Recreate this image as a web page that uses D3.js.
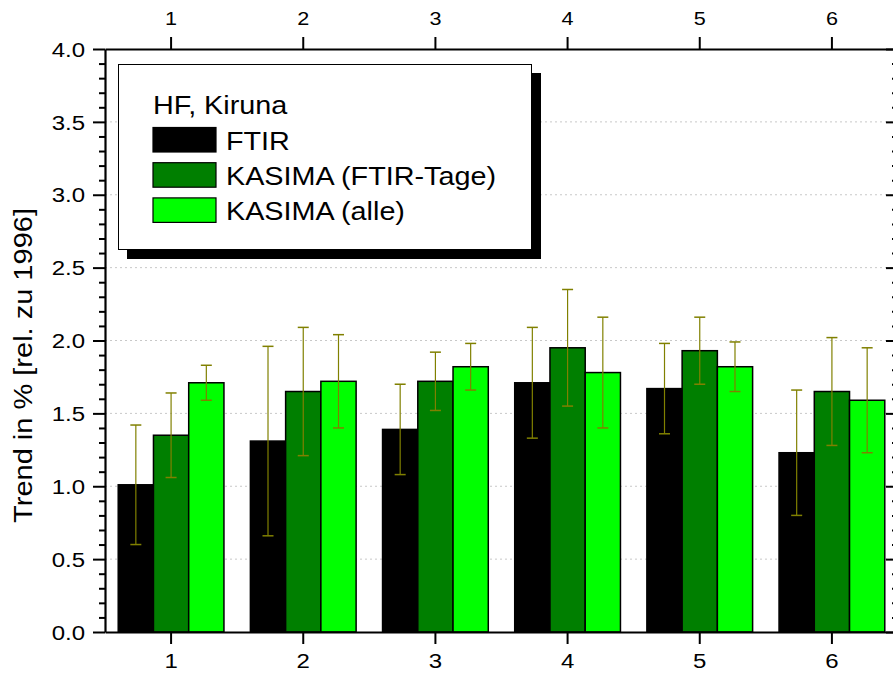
<!DOCTYPE html>
<html>
<head>
<meta charset="utf-8">
<script src="https://cdn.jsdelivr.net/npm/d3@7"></script>
<style>
  html, body { margin: 0; padding: 0; background: #fff; }
  svg { display: block; }
  text { font-family: "Liberation Sans", Arial, sans-serif; fill: #000; }
</style>
</head>
<body>
<svg id="chart" width="893" height="675"></svg>
<script>
// ---------- data ----------
const categories = ["1", "2", "3", "4", "5", "6"];
const seriesNames = ["FTIR", "KASIMA (FTIR-Tage)", "KASIMA (alle)"];
const ftir          = [1.01, 1.31, 1.39, 1.71, 1.67, 1.23];
const ftirErr       = [0.41, 0.65, 0.31, 0.38, 0.31, 0.43];
const kasimaFtir    = [1.35, 1.65, 1.72, 1.95, 1.93, 1.65];
const kasimaFtirErr = [0.29, 0.44, 0.20, 0.40, 0.23, 0.37];
const kasimaAlle    = [1.71, 1.72, 1.82, 1.78, 1.82, 1.59];
const kasimaAlleErr = [0.12, 0.32, 0.16, 0.38, 0.17, 0.36];
const yTickLabels   = ["0.0", "0.5", "1.0", "1.5", "2.0", "2.5", "3.0", "3.5", "4.0"];
const legendTitle   = "HF, Kiruna";
const yLabel        = "Trend in % [rel. zu 1996]";
const seriesColors  = ["#000000", "#007f00", "#00ff00"];

// ---------- layout ----------
const svg = d3.select("#chart");
const mLeft = 105, mRight = 898, mTop = 49, mBottom = 632;
const STRETCH = 1.2;

const x = d3.scaleBand().domain(categories).range([mLeft, mRight]).paddingInner(0).paddingOuter(0);
const x1 = d3.scaleBand().domain(seriesNames).range([0, x.bandwidth() * 0.8]);
const y = d3.scaleLinear().domain([0, 4]).range([mBottom, mTop]);

const series = [
  { name: seriesNames[0], values: ftir, errs: ftirErr, color: seriesColors[0] },
  { name: seriesNames[1], values: kasimaFtir, errs: kasimaFtirErr, color: seriesColors[1] },
  { name: seriesNames[2], values: kasimaAlle, errs: kasimaAlleErr, color: seriesColors[2] }
];

function stretch(sel, k) {
  sel.each(function () {
    const len = this.getComputedTextLength();
    d3.select(this).attr("textLength", len * k).attr("lengthAdjust", "spacingAndGlyphs");
  });
}

const majorVals = yTickLabels.map(Number);
const minorVals = d3.range(0, 41).map(i => i / 10).filter(v => !majorVals.some(m => Math.abs(m - v) < 1e-9));

// ---------- gridlines ----------
svg.append("g").selectAll("line").data(majorVals.filter(v => v > 0 && v < 4)).join("line")
  .attr("x1", mLeft).attr("x2", mRight)
  .attr("y1", d => y(d)).attr("y2", d => y(d))
  .attr("stroke", "#c8c8c8").attr("stroke-width", 1).attr("stroke-dasharray", "2,3");

// ---------- legend ----------
const lg = svg.append("g");
lg.append("rect").attr("x", 127).attr("y", 73).attr("width", 414).attr("height", 186).attr("fill", "#000");
lg.append("rect").attr("x", 118.5).attr("y", 64.5).attr("width", 413).attr("height", 185)
  .attr("fill", "#fff").attr("stroke", "#000").attr("stroke-width", 1);
lg.append("text").attr("x", 153).attr("y", 114).attr("font-size", 25).text(legendTitle).call(stretch, 1.15);
series.forEach((s, i) => {
  const yy = 127.5 + i * 35.2;
  lg.append("rect").attr("x", 153).attr("y", yy).attr("width", 63).attr("height", 24.5)
    .attr("fill", s.color).attr("stroke", "#000").attr("stroke-width", 1.2);
  lg.append("text").attr("x", 226).attr("y", yy + 22.5).attr("font-size", 25).text(s.name).call(stretch, 1.15);
});

// ---------- bars ----------
const groups = svg.append("g").selectAll("g").data(categories).join("g")
  .attr("transform", d => `translate(${x(d) + x.bandwidth() * 0.1},0)`);

groups.selectAll("rect").data((d, ci) => series.map(s => ({ s, v: s.values[ci], e: s.errs[ci] }))).join("rect")
  .attr("x", d => x1(d.s.name))
  .attr("width", x1.bandwidth())
  .attr("y", d => y(d.v))
  .attr("height", d => y(0) - y(d.v))
  .attr("fill", d => d.s.color)
  .attr("stroke", "#000").attr("stroke-width", 1.5);

// ---------- error bars ----------
const eb = groups.selectAll("g.err").data((d, ci) => series.map(s => ({ s, v: s.values[ci], e: s.errs[ci] }))).join("g")
  .attr("class", "err")
  .attr("transform", d => `translate(${x1(d.s.name) + x1.bandwidth() / 2},0)`);
eb.append("line").attr("x1", 0).attr("x2", 0)
  .attr("y1", d => y(d.v + d.e)).attr("y2", d => y(d.v - d.e))
  .attr("stroke", "#808000").attr("stroke-width", 1.2);
eb.append("line").attr("x1", -5.5).attr("x2", 5.5)
  .attr("y1", d => y(d.v + d.e)).attr("y2", d => y(d.v + d.e))
  .attr("stroke", "#808000").attr("stroke-width", 1.5);
eb.append("line").attr("x1", -5.5).attr("x2", 5.5)
  .attr("y1", d => y(d.v - d.e)).attr("y2", d => y(d.v - d.e))
  .attr("stroke", "#808000").attr("stroke-width", 1.5);

// ---------- axes ----------
function styleAxis(g) {
  g.select(".domain").attr("stroke", "#000").attr("stroke-width", 2.2);
  g.selectAll(".tick line").attr("stroke", "#000").attr("stroke-width", 2);
  g.selectAll(".tick text").attr("font-size", 20).attr("font-family", "'Liberation Sans', Arial, sans-serif");
}

// left
const gLeftMinor = svg.append("g").attr("transform", `translate(${mLeft},0)`)
  .call(d3.axisLeft(y).tickValues(minorVals).tickSize(6).tickSizeOuter(0).tickFormat(""));
gLeftMinor.select(".domain").remove();
gLeftMinor.selectAll(".tick line").attr("stroke", "#000").attr("stroke-width", 2);
const gLeft = svg.append("g").attr("transform", `translate(${mLeft},0)`)
  .call(d3.axisLeft(y).tickValues(majorVals).tickSize(12).tickSizeOuter(0).tickPadding(8)
    .tickFormat((d, i) => yTickLabels[i]));
styleAxis(gLeft);
gLeft.selectAll(".tick text").attr("dy", "0.36em").call(stretch, STRETCH);

// right (ticks inward)
const gRightMinor = svg.append("g").attr("transform", `translate(${mRight},0)`)
  .call(d3.axisLeft(y).tickValues(minorVals).tickSize(6).tickSizeOuter(0).tickFormat(""));
gRightMinor.select(".domain").remove();
gRightMinor.selectAll(".tick line").attr("stroke", "#000").attr("stroke-width", 2);
const gRight = svg.append("g").attr("transform", `translate(${mRight},0)`)
  .call(d3.axisLeft(y).tickValues(majorVals).tickSize(12).tickSizeOuter(0).tickFormat(""));
styleAxis(gRight);

// bottom
const gBottom = svg.append("g").attr("transform", `translate(0,${mBottom})`)
  .call(d3.axisBottom(x).tickSize(12).tickSizeOuter(0).tickPadding(10));
styleAxis(gBottom);
gBottom.selectAll(".tick text").call(stretch, STRETCH);

// top
const gTop = svg.append("g").attr("transform", `translate(0,${mTop})`)
  .call(d3.axisTop(x).tickSize(12).tickSizeOuter(0).tickPadding(12));
styleAxis(gTop);
gTop.selectAll(".tick text").attr("font-size", 18).call(stretch, STRETCH);

// y label
svg.append("text")
  .attr("transform", `translate(32,${(208 + 523) / 2}) rotate(-90)`)
  .attr("text-anchor", "middle")
  .attr("font-size", 25)
  .text(yLabel)
  .call(stretch, 1.16);
</script>
</body>
</html>
